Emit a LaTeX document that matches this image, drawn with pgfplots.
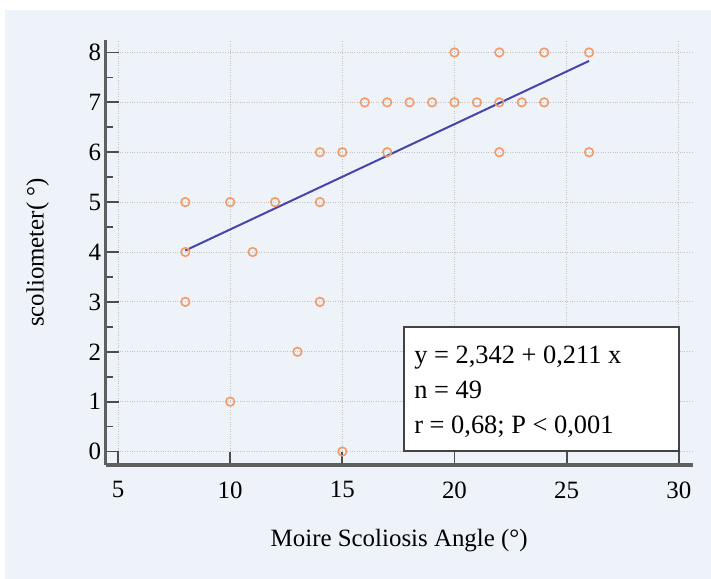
\documentclass[border=0pt]{standalone}
\usepackage{fontspec}
\setmainfont{Liberation Serif}
\usepackage{pgfplots}
\pgfplotsset{compat=1.18}
\definecolor{bgpanel}{RGB}{238,242,249}
\definecolor{ptorange}{RGB}{242,155,105}
\definecolor{fitblue}{RGB}{70,70,170}
\definecolor{axgray}{RGB}{95,95,95}
\definecolor{gridgray}{RGB}{195,195,195}
\begin{document}
\begin{tikzpicture}
\path[use as bounding box] (0,0) rectangle (711bp,579bp);
\fill[bgpanel] (5bp,-1bp) rectangle (712bp,569bp);
\begin{axis}[
  at={(105.7bp,114bp)}, anchor=south west,
  scale only axis, width=587bp, height=425bp,
  xmin=4.45, xmax=30.62, ymin=-0.27, ymax=8.25,
  axis x line*=bottom, axis y line*=left,
  axis line style={axgray,line width=3bp},
  xtick={5,10,...,30}, ytick={0,...,8},
  minor ytick={0.5,1.5,...,7.5},
  tick align=inside,
  major tick length=13bp, minor tick length=7bp,
  tick style={axgray!80!black,line width=1.8bp},
  grid=major, major grid style={gridgray,dotted,line width=0.9bp},
  font=\fontsize{25}{29}\selectfont,
  /pgf/number format/assume math mode=true,
  xticklabel style={yshift=-13bp},
  yticklabel style={xshift=-1bp},
  xlabel={Moire Scoliosis Angle (°)},
  ylabel={scoliometer( °)},
  xlabel style={at={(axis description cs:0.5,0)},anchor=center,yshift=-76bp},
  ylabel style={at={(axis description cs:0,0.5)},anchor=center,yshift=68bp},
  clip=false,
]
\addplot[only marks, mark=o, mark size=4.3bp,
  mark options={draw=ptorange,fill=white,line width=1.6bp}] coordinates {
  (20,8)(22,8)(24,8)(26,8)
  (16,7)(17,7)(18,7)(19,7)(20,7)(21,7)(22,7)(23,7)(24,7)
  (14,6)(15,6)(17,6)(22,6)(26,6)
  (8,5)(10,5)(12,5)(14,5)
  (8,4)(11,4)
  (8,3)(14,3)
  (13,2)
  (10,1)
  (15,0)};
\addplot[fitblue, line width=2bp] coordinates {(8,4.03)(26,7.83)};
\draw[fill=white, draw=axgray!70!black, line width=1.5bp]
  (axis cs:17.75,0.01) rectangle (axis cs:30.0,2.5);
\node[anchor=base west, inner sep=0pt, font=\fontsize{26.5}{30}\selectfont]
  at (axis cs:18.2,1.77) {y = 2,342 + 0,211 x};
\node[anchor=base west, inner sep=0pt, font=\fontsize{26.5}{30}\selectfont]
  at (axis cs:18.2,1.07) {n = 49};
\node[anchor=base west, inner sep=0pt, font=\fontsize{26.5}{30}\selectfont]
  at (axis cs:18.2,0.37) {r = 0,68; P < 0,001};
\end{axis}
\end{tikzpicture}
\end{document}
